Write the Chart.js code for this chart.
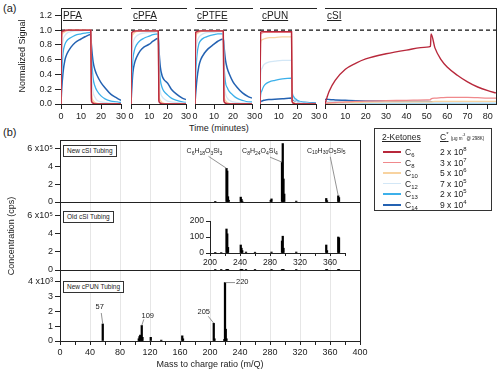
<!DOCTYPE html>
<html>
<head>
<meta charset="utf-8">
<script src="https://cdn.jsdelivr.net/npm/chart.js@4.4.1/dist/chart.umd.min.js"></script>
<style>
  body { margin: 0; background: #fff; width: 500px; height: 373px; overflow: hidden; position: relative;
         font-family: "Liberation Sans", Arial, sans-serif; color: #222; }
  canvas { position: absolute; }
  .t { position: absolute; white-space: nowrap; line-height: 1; }
  .pname { font-size: 10px; text-decoration: underline; }
  .tag { position: absolute; font-size: 6.5px; line-height: 1; padding: 1.5px 3px; border: 1px solid #333; background: #fff; white-space: nowrap; }
  #legend { position: absolute; left: 374px; top: 128px; width: 116px; height: 81px; border: 1px solid #333; font-size: 8.5px; }
  #legend .row { position: absolute; left: 0; width: 116px; height: 10px; }
  #legend .swatch { position: absolute; left: 8px; top: 5px; width: 18px; height: 1.5px; }
  #legend .lab { position: absolute; left: 30px; top: 1px; }
  #legend .val { position: absolute; left: 65px; top: 1px; }
  sub { font-size: 70%; vertical-align: -2px; line-height: 0; }
  sup { font-size: 70%; vertical-align: 4px; line-height: 0; }
</style>
</head>
<body>

<div class="t" style="left:3px;top:3px;font-size:11px">(a)</div>
<div class="t" style="left:3px;top:127px;font-size:11px">(b)</div>
<div class="t" style="left:189px;top:124px;font-size:9px">Time (minutes)</div>

<canvas id="pfa"></canvas>
<canvas id="cpfa"></canvas>
<canvas id="cptfe"></canvas>
<canvas id="cpun"></canvas>
<canvas id="csi"></canvas>

<canvas id="newCsi"></canvas>
<canvas id="oldCsi"></canvas>
<canvas id="newCpun"></canvas>
<canvas id="inset"></canvas>

<div class="tag" style="left:63px;top:145px">New cSI Tubing</div>
<div class="tag" style="left:63px;top:211px">Old cSI Tubing</div>
<div class="tag" style="left:63px;top:281px">New cPUN Tubing</div>

<div id="legend"></div>

<script>
// ---- panel (a): ketone breakthrough, normalized signal ----
const ketones      = ['C6', 'C8', 'C10', 'C12', 'C13', 'C14'];
const ketoneColors = ['#b8283b', '#f0898c', '#f8d3a0', '#d3e7f6', '#3cb0ea', '#2462b2'];
const cStarMantissa = [2, 3, 5, 7, 2, 9];
const cStarExponent = [8, 7, 6, 5, 5, 4];

const tStep15 = [0, 0.3, 1, 2, 3, 5, 7, 10, 12, 14.9, 15.2, 16, 17, 18, 20, 22, 25, 28, 30];
const pfaSignal = [
  [0, 0.97, 0.99, 1, 1, 1, 1, 1, 1, 1, 0.04, 0.01, 0, 0, 0, 0, 0, 0, 0],
  [0, 0.95, 0.98, 0.99, 1, 1, 1, 1, 1, 1, 0.08, 0.02, 0.01, 0, 0, 0, 0, 0, 0],
  [0, 0.9, 0.96, 0.98, 0.99, 1, 1, 1, 1, 1, 0.2, 0.05, 0.02, 0.01, 0, 0, 0, 0, 0],
  [0, 0.62, 0.86, 0.93, 0.96, 0.98, 0.99, 0.99, 1, 1, 0.5, 0.18, 0.09, 0.05, 0.03, 0.02, 0.01, 0.01, 0],
  [0, 0.35, 0.68, 0.81, 0.86, 0.9, 0.93, 0.95, 0.96, 0.97, 0.68, 0.36, 0.24, 0.18, 0.11, 0.07, 0.04, 0.03, 0.02],
  [0, 0.18, 0.42, 0.6, 0.68, 0.77, 0.83, 0.88, 0.91, 0.94, 0.8, 0.58, 0.46, 0.39, 0.29, 0.22, 0.13, 0.08, 0.05],
];
const cpfaSignal = [
  [0, 0.96, 0.98, 0.99, 0.99, 0.99, 0.99, 0.99, 0.99, 0.99, 0.04, 0.01, 0, 0, 0, 0, 0, 0, 0],
  [0, 0.93, 0.97, 0.98, 0.99, 0.99, 0.99, 0.99, 0.99, 0.99, 0.07, 0.02, 0.01, 0, 0, 0, 0, 0, 0],
  [0, 0.86, 0.94, 0.97, 0.98, 0.99, 0.99, 0.99, 0.99, 0.99, 0.18, 0.05, 0.02, 0.01, 0, 0, 0, 0, 0],
  [0, 0.55, 0.8, 0.89, 0.92, 0.95, 0.96, 0.97, 0.97, 0.98, 0.45, 0.17, 0.1, 0.07, 0.04, 0.03, 0.02, 0.01, 0.01],
  [0, 0.3, 0.6, 0.74, 0.8, 0.86, 0.89, 0.92, 0.94, 0.95, 0.62, 0.33, 0.22, 0.17, 0.12, 0.08, 0.05, 0.03, 0.02],
  [0, 0.15, 0.42, 0.56, 0.63, 0.72, 0.77, 0.81, 0.85, 0.89, 0.75, 0.5, 0.38, 0.33, 0.28, 0.2, 0.13, 0.08, 0.06],
];
const cptfeSignal = [
  [0, 0.97, 0.98, 0.99, 0.99, 0.99, 0.99, 0.99, 0.99, 0.99, 0.04, 0.01, 0, 0, 0, 0, 0, 0, 0],
  [0, 0.94, 0.97, 0.98, 0.99, 0.99, 0.99, 0.99, 0.99, 0.99, 0.07, 0.02, 0.01, 0, 0, 0, 0, 0, 0],
  [0, 0.88, 0.95, 0.97, 0.98, 0.99, 0.99, 0.99, 0.99, 0.99, 0.18, 0.05, 0.02, 0.01, 0, 0, 0, 0, 0],
  [0, 0.6, 0.83, 0.9, 0.93, 0.96, 0.97, 0.97, 0.98, 0.98, 0.42, 0.15, 0.08, 0.05, 0.03, 0.02, 0.01, 0.01, 0],
  [0, 0.35, 0.65, 0.81, 0.86, 0.9, 0.92, 0.94, 0.95, 0.95, 0.6, 0.3, 0.22, 0.17, 0.12, 0.08, 0.05, 0.03, 0.03],
  [0, 0.12, 0.33, 0.51, 0.6, 0.69, 0.75, 0.81, 0.85, 0.88, 0.8, 0.6, 0.48, 0.41, 0.3, 0.23, 0.15, 0.1, 0.08],
];

const tStep17 = [0, 0.3, 1, 2, 3, 5, 8, 12, 16.9, 17.2, 18, 19, 20, 22, 25, 30];
const cpunSignal = [
  [0, 0.97, 0.98, 0.98, 0.98, 0.98, 0.98, 0.98, 0.98, 0.03, 0.01, 0, 0, 0, 0, 0],
  [0, 0.94, 0.96, 0.97, 0.97, 0.97, 0.97, 0.97, 0.97, 0.04, 0.01, 0, 0, 0, 0, 0],
  [0, 0.82, 0.87, 0.88, 0.89, 0.9, 0.9, 0.91, 0.91, 0.05, 0.02, 0.01, 0, 0, 0, 0],
  [0, 0.4, 0.48, 0.53, 0.55, 0.57, 0.58, 0.59, 0.59, 0.12, 0.06, 0.04, 0.03, 0.02, 0.01, 0],
  [0, 0.12, 0.18, 0.24, 0.27, 0.3, 0.32, 0.34, 0.35, 0.18, 0.1, 0.07, 0.05, 0.03, 0.02, 0.01],
  [0, 0.03, 0.04, 0.05, 0.055, 0.06, 0.065, 0.07, 0.08, 0.06, 0.05, 0.04, 0.035, 0.025, 0.02, 0.01],
];

const tCsi = [0, 1, 2, 5, 10, 15, 20, 30, 40, 50, 51.8, 52.1, 54, 57, 60, 65, 70, 75, 80, 84];
const csiSignal = [
  [0, 0.09, 0.17, 0.32, 0.47, 0.55, 0.61, 0.68, 0.73, 0.77, 0.78, 0.95, 0.76, 0.6, 0.5, 0.39, 0.3, 0.23, 0.18, 0.15],
  [0, 0.01, 0.015, 0.02, 0.03, 0.035, 0.04, 0.045, 0.05, 0.055, 0.056, 0.07, 0.08, 0.085, 0.09, 0.09, 0.09, 0.085, 0.08, 0.08],
  [0, 0.01, 0.01, 0.015, 0.02, 0.02, 0.025, 0.03, 0.03, 0.03, 0.03, 0.03, 0.035, 0.035, 0.035, 0.035, 0.035, 0.035, 0.035, 0.035],
  [0.02, 0.02, 0.02, 0.02, 0.02, 0.02, 0.02, 0.02, 0.02, 0.02, 0.02, 0.02, 0.02, 0.02, 0.02, 0.02, 0.02, 0.02, 0.02, 0.02],
  [0.03, 0.025, 0.02, 0.02, 0.018, 0.016, 0.015, 0.015, 0.015, 0.015, 0.015, 0.015, 0.015, 0.015, 0.015, 0.015, 0.015, 0.015, 0.015, 0.015],
  [0.06, 0.065, 0.06, 0.055, 0.05, 0.045, 0.042, 0.04, 0.035, 0.033, 0.032, 0.032, 0.03, 0.03, 0.03, 0.028, 0.027, 0.026, 0.025, 0.025],
];

const timeTicks30  = [0, 10, 20, 30];
const timeTicksCsi = [0, 10, 20, 30, 40, 50, 60, 70, 80];
const signalTicks  = [0, 0.2, 0.4, 0.6, 0.8, 1.0, 1.2];
const dashedLevel  = 1.0;

// ---- panel (b): mass spectra ----
const newCsiMz  = [207, 222, 223, 224, 225, 241, 242, 243, 281, 282, 296, 297, 298, 299, 315, 355, 356, 371, 372];
const newCsiCps = [3e3, 3.8e5, 3.5e5, 0.6e5, 0.2e5, 0.55e5, 0.3e5, 0.1e5, 0.2e5, 0.35e5, 4.5e5, 6.6e5, 2.6e5, 0.9e5, 0.1e5, 0.4e5, 0.15e5, 0.7e5, 0.5e5];
const oldCsiMz  = [207, 215, 222, 223, 224, 241, 242, 243, 248, 260, 282, 296, 297, 298, 315, 355, 356, 371, 372];
const oldCsiCps = [4, 3, 150, 120, 35, 50, 30, 15, 6, 5, 6, 75, 105, 30, 6, 50, 15, 100, 95];
const cpunMz    = [57, 105, 106, 107, 109, 110, 121, 135, 163, 164, 205, 206, 219, 220, 221, 222];
const cpunCps   = [1150, 150, 300, 400, 1050, 250, 250, 60, 350, 150, 1200, 150, 100, 3950, 800, 150];

const massTicks      = [0, 20, 40, 60, 80, 100, 120, 140, 160, 180, 200, 220, 240, 260, 280, 300, 320, 340, 360, 380, 400];
const insetMassTicks = [200, 220, 240, 260, 280, 300, 320, 340, 360, 380];
const csiTicks       = [0, 1e5, 2e5, 3e5, 4e5, 5e5, 6e5, 7e5];
const csiLabels      = ['0', '', '2', '', '4', '', '6 x10\u2075', ''];
const cpunTicks      = [0, 500, 1000, 1500, 2000, 2500, 3000, 3500, 4000, 4500];
const cpunLabels     = ['0', '', '1', '', '2', '', '3', '', '4 x10\u00b3', ''];
const insetTicks     = [0, 100, 200];

// ------------------------------------------------------------
Chart.defaults.font.family = '"Liberation Sans", Arial, sans-serif';
Chart.defaults.font.size = 9;
Chart.defaults.color = '#222';
Chart.defaults.animation = false;
Chart.defaults.responsive = false;
Chart.defaults.devicePixelRatio = 1;
Chart.defaults.plugins.legend.display = false;
Chart.defaults.plugins.tooltip.enabled = false;
Chart.defaults.events = [];

const AX = '#222';

function place(id, left, top, w, h) {
  const c = document.getElementById(id);
  c.width = w; c.height = h;
  c.style.left = left + 'px';
  c.style.top = top + 'px';
  return c;
}
// force axis box size so every plot area lands where the figure has it
function fixBox(size, horizontal) {
  return s => {
    if (horizontal) s.height = size; else s.width = size;
    s.paddingLeft = s.paddingRight = s.paddingTop = s.paddingBottom = 0;
  };
}
function setTicks(values) {
  return s => { s.ticks = values.map(v => ({ value: v })); };
}
function edgeAxis(position, min, max) {
  return {
    type: 'linear', position, min, max,
    ticks: { display: false },
    grid: { display: false },
    border: { display: true, color: AX, width: 1 },
    afterFit: fixBox(0, position === 'top' || position === 'bottom'),
  };
}

// -------------------------------------------------------
// (a) time panels
// -------------------------------------------------------
const panelsA = [
  { id: 'pfa',   name: 'PFA',   times: tStep15, signal: pfaSignal,   xmax: 30, ticks: timeTicks30,  left: 61,  right: 121, gap: 5,   yAxis: true },
  { id: 'cpfa',  name: 'cPFA',  times: tStep15, signal: cpfaSignal,  xmax: 30, ticks: timeTicks30,  left: 131, right: 186, gap: 5 },
  { id: 'cptfe', name: 'cPTFE', times: tStep15, signal: cptfeSignal, xmax: 30, ticks: timeTicks30,  left: 195, right: 252, gap: 4.5 },
  { id: 'cpun',  name: 'cPUN',  times: tStep17, signal: cpunSignal,  xmax: 30, ticks: timeTicks30,  left: 260, right: 316, gap: 5 },
  { id: 'csi',   name: 'cSI',   times: tCsi,    signal: csiSignal,   xmax: 84, ticks: timeTicksCsi, left: 325, right: 496, gap: 0, rightBorder: true },
];

function timePanel(p) {
  const padL = p.yAxis ? 61 : 8;
  const padR = 10;
  const canvas = place(p.id, p.left - padL, 0, padL + (p.right - p.left) + padR, 122);

  const datasets = ketones.map((k, j) => ({
    label: k,
    data: p.times.map((t, n) => ({ x: t, y: p.signal[j][n] })),
    borderColor: ketoneColors[j],
    borderWidth: j === 0 ? 1.4 : (j === 5 ? 1.5 : 1.3),
    pointRadius: 0,
    cubicInterpolationMode: 'monotone',
    fill: false,
  }));
  datasets.push({
    data: [{ x: 0, y: dashedLevel }, { x: p.xmax + p.gap, y: dashedLevel }],
    borderColor: '#111', borderWidth: 1.4, borderDash: [4, 3],
    pointRadius: 0, clip: false,
  });

  const scales = {
    x: {
      type: 'linear', min: 0, max: p.xmax,
      afterBuildTicks: setTicks(p.ticks),
      afterFit: fixBox(18, true),
      grid: { drawOnChartArea: false, tickLength: 5, color: AX },
      border: { color: AX },
      ticks: { padding: 2, maxRotation: 0, autoSkip: false },
    },
    x2: edgeAxis('top', 0, p.xmax),
    y: {
      min: 0, max: 1.3, display: !!p.yAxis,
      afterBuildTicks: setTicks(signalTicks),
      afterFit: fixBox(p.yAxis ? 61 : 0, false),
      ticks: { padding: 3, callback: v => v.toFixed(1) },
      grid: { drawOnChartArea: false, tickLength: 6, color: AX },
      border: { color: AX },
      title: { display: true, text: 'Normalized Signal', padding: { top: 17, bottom: 0 } },
    },
  };
  if (p.rightBorder) scales.y2 = edgeAxis('right', 0, 1.3);

  new Chart(canvas, {
    type: 'line',
    data: { datasets },
    options: {
      layout: { padding: { left: p.yAxis ? 0 : 8, right: padR, top: 8, bottom: 0 } },
      scales,
    },
  });

  const lab = document.createElement('div');
  lab.className = 't pname';
  lab.style.left = (p.left + 2) + 'px';
  lab.style.top = '11px';
  lab.textContent = p.name;
  document.body.appendChild(lab);
}
panelsA.forEach(timePanel);

// -------------------------------------------------------
// (b) mass spectra
// -------------------------------------------------------
function drawLabel(ctx, text, cx, cy, size, formula, align) {
  const parts = formula ? text.match(/[A-Za-z]+|\d+/g) : [text];
  const isSub = p => formula && /^\d/.test(p);
  const fontFor = p => (isSub(p) ? size * 0.72 : size) + 'px "Liberation Sans", Arial, sans-serif';
  let w = 0;
  parts.forEach(p => { ctx.font = fontFor(p); w += ctx.measureText(p).width; });
  let xx = align === 'left' ? cx : cx - w / 2;
  ctx.fillStyle = '#222';
  ctx.textBaseline = 'middle';
  ctx.textAlign = 'left';
  parts.forEach(p => {
    ctx.font = fontFor(p);
    ctx.fillText(p, xx, isSub(p) ? cy + size * 0.3 : cy);
    xx += ctx.measureText(p).width;
  });
}

const peakNotes = {
  id: 'peakNotes',
  afterDatasetsDraw(chart, args, opts) {
    const { ctx } = chart;
    const x = chart.scales.x, y = chart.scales.y;
    (opts.notes || []).forEach(n => {
      const px = x.getPixelForValue(n.mz);
      const py = y.getPixelForValue(n.val);
      ctx.save();
      ctx.strokeStyle = '#777';
      ctx.lineWidth = 0.8;
      ctx.beginPath();
      ctx.moveTo(px + n.lx, py + n.ly);
      ctx.lineTo(px, py);
      ctx.stroke();
      drawLabel(ctx, n.text, px + n.tx, py + n.ty, n.size, n.formula, n.align);
      ctx.restore();
    });
  },
};

const gridAt40 = c => (c.tick && c.tick.value % 40 === 0 && c.tick.value > 0 && c.tick.value < 400)
  ? '#e6e6e6' : 'rgba(0,0,0,0)';

function massPanel(c) {
  const padB = c.padBottom || 0;
  const h = c.plotBottom - c.top + c.xAxisH + padB;
  const canvas = place(c.id, 0, c.top, 372, h);
  new Chart(canvas, {
    type: 'bar',
    data: {
      datasets: [{
        data: c.mz.map((m, i) => ({ x: m, y: c.cps[i] })),
        backgroundColor: '#000',
        barThickness: 1.6,
      }],
    },
    options: {
      layout: { padding: { left: 0, right: 12, top: c.plotTop - c.top, bottom: padB } },
      scales: {
        x: {
          type: 'linear', min: 0, max: 400, offset: false,
          afterBuildTicks: setTicks(massTicks),
          afterFit: fixBox(c.xAxisH, true),
          grid: { offset: false, drawTicks: !!c.showX, tickLength: 4, tickColor: AX, color: gridAt40 },
          ticks: { display: !!c.showX, padding: 2, maxRotation: 0, autoSkip: false,
                   callback: v => (v % 40 === 0 ? String(v) : '') },
          border: { color: AX },
          title: { display: !!c.xTitle, text: c.xTitle || '', padding: { top: 0, bottom: 3 } },
        },
        x2: edgeAxis('top', 0, 400),
        y: {
          min: 0, max: c.ymax,
          afterBuildTicks: setTicks(c.yTicks),
          afterFit: fixBox(60, false),
          ticks: { padding: 2, callback: (v, i) => c.yLabels[i] },
          grid: { drawOnChartArea: false, tickLength: 5, color: AX },
          border: { color: AX },
          title: { display: !!c.yTitle, text: c.yTitle || '', padding: { top: 6, bottom: 0 } },
        },
        y2: edgeAxis('right', 0, c.ymax),
      },
      plugins: { peakNotes: { notes: c.notes || [] } },
    },
    plugins: [peakNotes],
  });
}

massPanel({
  id: 'newCsi', top: 130, plotTop: 140, plotBottom: 202, xAxisH: 2,
  mz: newCsiMz, cps: newCsiCps, ymax: 7.0e5, yTicks: csiTicks, yLabels: csiLabels,
  notes: [
    { mz: 222, val: 3.8e5, text: 'C6H18O3Si3',  formula: true, size: 7, lx: -18, ly: -12, tx: -22, ty: -17 },
    { mz: 296, val: 4.5e5, text: 'C8H24O4Si4',  formula: true, size: 7, lx: -12, ly: -5,  tx: -22, ty: -11 },
    { mz: 371, val: 0.7e5, text: 'C10H30O5Si5', formula: true, size: 7, lx: -8,  ly: -39, tx: -12, ty: -45 },
  ],
});
massPanel({
  id: 'oldCsi', top: 184, plotTop: 202, plotBottom: 270, xAxisH: 2, padBottom: 18,
  mz: oldCsiMz, cps: oldCsiCps, ymax: 7.5e5, yTicks: csiTicks, yLabels: csiLabels,
  yTitle: 'Concentration (cps)',
});
massPanel({
  id: 'newCpun', top: 264, plotTop: 270, plotBottom: 341, xAxisH: 32, showX: true,
  mz: cpunMz, cps: cpunCps, ymax: 4.8e3, yTicks: cpunTicks, yLabels: cpunLabels,
  xTitle: 'Mass to charge ratio (m/Q)',
  notes: [
    { mz: 57,  val: 1150, text: '57',  size: 7.5, lx: -1.5, ly: -11, tx: -3, ty: -17 },
    { mz: 109, val: 1050, text: '109', size: 7.5, lx: 2,    ly: -6,  tx: 6,  ty: -10 },
    { mz: 205, val: 1200, text: '205', size: 7.5, lx: -5.5, ly: -7,  tx: -10, ty: -11 },
    { mz: 220, val: 3950, text: '220', size: 7.5, lx: 10,   ly: 0,   tx: 11, ty: -1, align: 'left' },
  ],
});

// inset: old cSI tubing, zoomed
new Chart(place('inset', 180, 211, 175, 58), {
  type: 'bar',
  data: {
    datasets: [{
      data: oldCsiMz.map((m, i) => ({ x: m, y: oldCsiCps[i] })),
      backgroundColor: '#000',
      barThickness: 1.6,
    }],
  },
  options: {
    layout: { padding: { left: 0, right: 10, top: 10, bottom: 0 } },
    scales: {
      x: {
        type: 'linear', min: 200, max: 380, offset: false,
        afterBuildTicks: setTicks(insetMassTicks),
        afterFit: fixBox(16, true),
        grid: { offset: false, drawOnChartArea: false, tickLength: 3, color: AX },
        ticks: { padding: 2, maxRotation: 0, autoSkip: false, font: { size: 8.5 },
                 callback: v => (v % 40 === 0 ? String(v) : '') },
        border: { color: AX },
      },
      y: {
        min: 0, max: 200,
        afterBuildTicks: setTicks(insetTicks),
        afterFit: fixBox(30, false),
        grid: { drawOnChartArea: false, tickLength: 4, color: AX },
        ticks: { padding: 2, font: { size: 8.5 } },
        border: { color: AX },
      },
    },
  },
});

// -------------------------------------------------------
// legend box
// -------------------------------------------------------
(function renderLegend() {
  const el = document.getElementById('legend');
  let html = `
    <div class="t" style="left:7px;top:4px;text-decoration:underline">2-Ketones</div>
    <div class="t" style="left:65px;top:4px"><span style="text-decoration:underline">C<sup>*</sup></span>
      <span style="font-size:4.5px">(\u00b5g m<sup>-3</sup> @ 298K)</span></div>`;
  ketones.forEach((k, i) => {
    html += `
    <div class="row" style="top:${17 + i * 10.6}px">
      <div class="swatch" style="background:${ketoneColors[i]}"></div>
      <div class="lab">C<sub>${k.slice(1)}</sub></div>
      <div class="val">${cStarMantissa[i]} x 10<sup>${cStarExponent[i]}</sup></div>
    </div>`;
  });
  el.innerHTML = html;
})();
</script>
</body>
</html>
